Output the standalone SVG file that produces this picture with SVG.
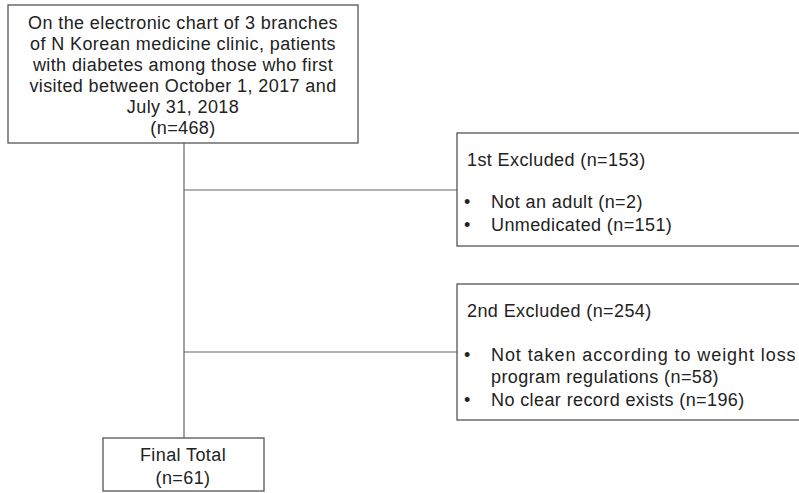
<svg xmlns="http://www.w3.org/2000/svg" width="799" height="493" viewBox="0 0 799 493">
<style>
.box{fill:#fff;stroke:#555;stroke-width:1.3}
.ln{stroke:#666;stroke-width:1.2;fill:none}
text{font-family:"Liberation Sans","Noto Sans",sans-serif;font-size:18px;letter-spacing:0.4px;fill:#222}
.c{text-anchor:middle}
</style>
<rect width="799" height="493" fill="#fff"/>
<g id="connectors">
<line class="ln" x1="184" y1="143" x2="184" y2="438"/>
<line class="ln" x1="184" y1="190" x2="457" y2="190"/>
<line class="ln" x1="184" y1="352" x2="457" y2="352"/>
</g>
<g id="n1">
<rect class="box" x="8" y="5" width="350" height="138"/>
<text class="c" x="183" y="29">On the electronic chart of 3 branches</text>
<text class="c" x="183" y="50">of N Korean medicine clinic, patients</text>
<text class="c" x="183" y="71">with diabetes among those who first</text>
<text class="c" x="183" y="92">visited between October 1, 2017 and</text>
<text class="c" x="183" y="113">July 31, 2018</text>
<text class="c" x="183" y="134">(n=468)</text>
</g>
<g id="n2">
<rect class="box" x="457" y="133" width="350" height="113"/>
<text x="467" y="166">1st Excluded (n=153)</text>
<text x="464" y="208">•</text>
<text x="491" y="208">Not an adult (n=2)</text>
<text x="464" y="231">•</text>
<text x="491" y="231">Unmedicated (n=151)</text>
</g>
<g id="n3">
<rect class="box" x="457" y="284" width="350" height="136"/>
<text x="467" y="317">2nd Excluded (n=254)</text>
<text x="464" y="361">•</text>
<text x="491" y="361" textLength="305" lengthAdjust="spacing">Not taken according to weight loss</text>
<text x="491" y="383">program regulations (n=58)</text>
<text x="464" y="406">•</text>
<text x="491" y="406">No clear record exists (n=196)</text>
</g>
<g id="n4">
<rect class="box" x="103" y="438" width="161" height="53"/>
<text class="c" x="183" y="461">Final Total</text>
<text class="c" x="183" y="484">(n=61)</text>
</g>
</svg>
